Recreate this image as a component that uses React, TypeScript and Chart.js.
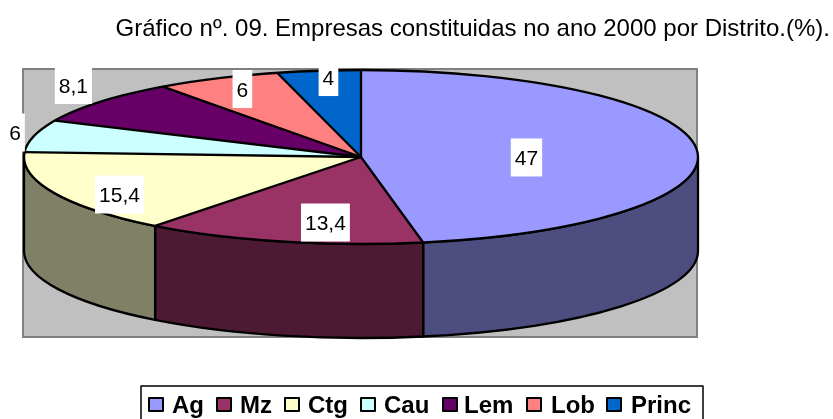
import React, { useEffect, useRef } from "react";
import { Chart, registerables } from "chart.js";

Chart.register(...registerables);

const categories = ["Ag", "Mz", "Ctg", "Cau", "Lem", "Lob", "Princ"];
const values = [47, 13.4, 15.4, 6, 8.1, 6, 4];
const valueLabels = ["47", "13,4", "15,4", "6", "8,1", "6", "4"];
const topColors = ["#9999FF", "#993366", "#FFFFCC", "#CCFFFF", "#660066", "#FF8080", "#0066CC"];
const wallColors = ["#4D4D80", "#4D1A33", "#808066", "#668080", "#330033", "#804040", "#003366"];
const titleText = "Gráfico nº. 09. Empresas constituidas no ano 2000 por Distrito.(%).";

// layout constants
const W = 833, H = 419;
const CX = 361, CY = 157, RX = 337, RY = 87, DEPTH = 94;
const labelNudges = [[-2.3, 4.5], [3.8, 23.2], [-88.3, 19.4], [-182.5, -14], [-157.3, -44.4], [-46.8, -28.6], [-11.4, -36.8]];
const legendSwatchX = [149, 217, 285, 361, 443, 527, 607];
const legendTextX = [172, 240, 308, 384, 464, 551, 631];
const FONT = '"Liberation Sans", Arial, sans-serif';
const LINE = 2.3;

const pie3d = {
  id: "pie3d",
  beforeDraw(chart: any) {
    const c = chart.ctx;
    c.save();
    c.fillStyle = "#FFFFFF";
    c.fillRect(0, 0, W, H);
    c.fillStyle = "#C0C0C0";
    c.strokeStyle = "#808080";
    c.lineWidth = 2;
    c.fillRect(23, 69, 674, 268);
    c.strokeRect(23, 69, 674, 268);
    c.restore();
  },
  beforeDatasetsDraw(chart: any) {
    const c = chart.ctx;
    const arcs = chart.getDatasetMeta(0).data;
    const ax = arcs[0].x, ay = arcs[0].y, r = arcs[0].outerRadius;
    c.save();
    c.lineWidth = LINE;
    c.strokeStyle = "#000";
    c.lineJoin = "round";
    arcs.forEach((a: any, i: number) => {
      const s = Math.max(a.startAngle, 0);
      const e = Math.min(a.endAngle, Math.PI);
      if (e <= s) return;
      c.beginPath();
      c.ellipse(CX, CY, RX, RY, 0, s, e);
      c.ellipse(CX, CY + DEPTH, RX, RY, 0, e, s, true);
      c.closePath();
      c.fillStyle = wallColors[i];
      c.fill();
      c.stroke();
    });
    c.restore();
    c.save();
    c.translate(CX, CY);
    c.scale(RX / r, RY / r);
    c.translate(-ax, -ay);
  },
  afterDatasetsDraw(chart: any) {
    const c = chart.ctx;
    c.restore();
    const arcs = chart.getDatasetMeta(0).data;
    c.save();
    c.lineWidth = LINE;
    c.strokeStyle = "#000";
    c.lineJoin = "round";
    arcs.forEach((a: any) => {
      c.beginPath();
      c.moveTo(CX, CY);
      c.lineTo(CX + RX * Math.cos(a.startAngle), CY + RY * Math.sin(a.startAngle));
      c.stroke();
    });
    c.beginPath();
    c.ellipse(CX, CY, RX, RY, 0, 0, Math.PI * 2);
    c.stroke();

    // value labels with white boxes
    c.font = `21px ${FONT}`;
    c.textAlign = "center";
    c.textBaseline = "middle";
    arcs.forEach((a: any, i: number) => {
      const m = (a.startAngle + a.endAngle) / 2;
      const x = CX + 0.5 * RX * Math.cos(m) + labelNudges[i][0];
      const y = CY + 0.5 * RY * Math.sin(m) + labelNudges[i][1];
      const w = c.measureText(valueLabels[i]).width + 8;
      c.fillStyle = "#FFFFFF";
      c.fillRect(x - w / 2, y - 19, w, 38);
      c.fillStyle = "#000000";
      c.fillText(valueLabels[i], x, y + 2);
    });

    // title
    c.font = `24px ${FONT}`;
    c.textAlign = "right";
    c.textBaseline = "alphabetic";
    c.fillStyle = "#000000";
    c.fillText(titleText, 830, 36);

    // legend
    c.fillStyle = "#FFFFFF";
    c.strokeStyle = "#000";
    c.lineWidth = 1.5;
    c.fillRect(141, 386, 562, 40);
    c.strokeRect(141, 386, 562, 40);
    c.font = `bold 24px ${FONT}`;
    c.textAlign = "left";
    c.textBaseline = "alphabetic";
    categories.forEach((t, i) => {
      c.fillStyle = topColors[i];
      c.fillRect(legendSwatchX[i], 398, 14, 13);
      c.lineWidth = 2;
      c.strokeRect(legendSwatchX[i], 398, 14, 13);
      c.fillStyle = "#000";
      c.fillText(t, legendTextX[i], 413);
    });
    c.restore();
  },
};

export default function App() {
  const ref = useRef<HTMLCanvasElement | null>(null);
  useEffect(() => {
    document.body.style.margin = "0";
    const chart = new Chart(ref.current as HTMLCanvasElement, {
      type: "pie",
      data: {
        labels: categories,
        datasets: [{ data: values, backgroundColor: topColors, borderWidth: 0, clip: false } as any],
      },
      options: {
        responsive: false,
        animation: false,
        devicePixelRatio: 1,
        layout: { padding: { left: CX - RY, right: W - CX - RY, top: CY - RY, bottom: H - CY - RY } },
        plugins: { legend: { display: false }, title: { display: false }, tooltip: { enabled: false } },
      },
      plugins: [pie3d],
    } as any);
    return () => chart.destroy();
  }, []);
  return <canvas ref={ref} width={W} height={H} style={{ display: "block", width: W, height: H }} />;
}
